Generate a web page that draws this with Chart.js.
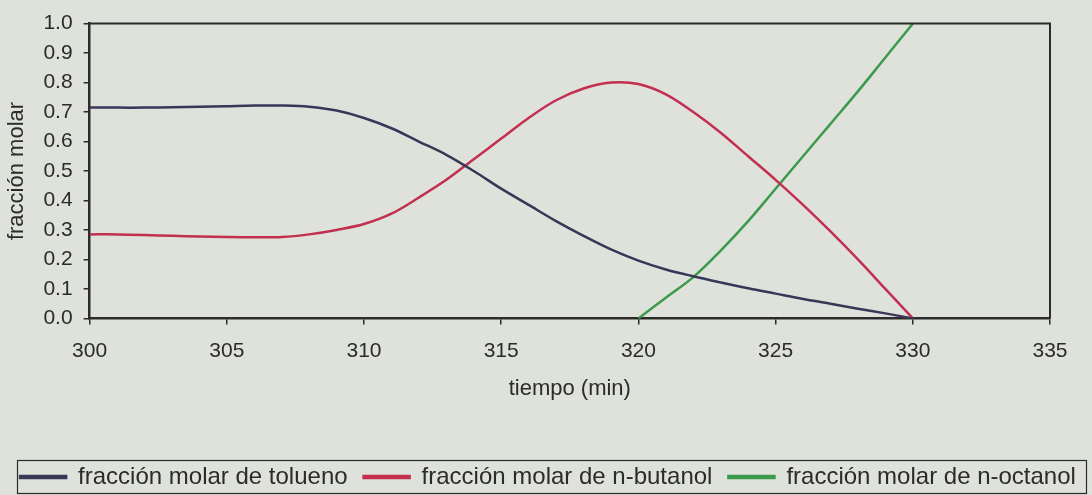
<!DOCTYPE html>
<html>
<head>
<meta charset="utf-8">
<script src="https://cdn.jsdelivr.net/npm/chart.js@4/dist/chart.umd.min.js"></script>
<style>
  html, body { margin: 0; padding: 0; background: #dee2db; }
  #wrap { width: 1092px; height: 495px; position: relative; }
</style>
</head>
<body>
<div id="wrap"><canvas id="c"></canvas></div>
<script>
// fracción molar en el destilado vs tiempo (min)
const tiempo = [300, 301, 302, 303, 304, 305, 306, 307, 308, 309, 310, 311, 312, 313, 314, 315,
  316, 317, 318, 319, 320, 321, 322, 323, 324, 325, 326, 327, 328, 329, 330];
const tolueno = [0.715, 0.715, 0.715, 0.716, 0.718, 0.72, 0.722, 0.722, 0.718, 0.705, 0.68, 0.645,
  0.60, 0.555, 0.50, 0.44, 0.385, 0.33, 0.28, 0.234, 0.196, 0.166, 0.143, 0.122, 0.102, 0.084,
  0.066, 0.05, 0.033, 0.017, 0.0];
const butanol = [0.285, 0.285, 0.283, 0.28, 0.278, 0.276, 0.275, 0.276, 0.285, 0.30, 0.32, 0.355,
  0.41, 0.47, 0.54, 0.61, 0.68, 0.74, 0.78, 0.80, 0.795, 0.76, 0.70, 0.63, 0.55, 0.47,
  0.385, 0.295, 0.20, 0.10, 0.0];
const tiempoOct = [320, 321, 322, 323, 324, 325, 326, 327, 328, 329, 330];
const octanol = [0.0, 0.07, 0.14, 0.23, 0.33, 0.44, 0.55, 0.66, 0.77, 0.885, 1.0];

const xTicks = [300, 305, 310, 315, 320, 325, 330, 335];
const SERIES = [
  { label: 'fracción molar de tolueno', x: tiempo, y: tolueno, color: '#3a3657' },
  { label: 'fracción molar de n-butanol', x: tiempo, y: butanol, color: '#c22f4f' },
  { label: 'fracción molar de n-octanol', x: tiempoOct, y: octanol, color: '#3c9a4c' },
];

const INK = '#2b2b2b';
const FONT = "'Liberation Sans', Arial, sans-serif";

// marco superior/derecho + caja de la leyenda
const framePlugin = {
  id: 'frame',
  afterDraw(chart) {
    const { ctx, chartArea: a, legend } = chart;
    ctx.save();
    ctx.strokeStyle = INK;
    ctx.lineWidth = 2;
    ctx.beginPath();
    ctx.moveTo(a.left, a.top);
    ctx.lineTo(a.right, a.top);
    ctx.lineTo(a.right, a.bottom);
    ctx.stroke();

    ctx.lineWidth = 1.2;
    ctx.strokeRect(17.5, legend.top + 11.5, 1069, 33);
    ctx.restore();
  },
};

new Chart(document.getElementById('c'), {
  type: 'line',
  data: {
    datasets: SERIES.map((s) => ({
      label: s.label,
      data: s.x.map((t, i) => ({ x: t, y: s.y[i] })),
      borderColor: s.color,
      backgroundColor: s.color,
      borderWidth: 2.5,
      pointRadius: 0,
      tension: 0.35,
      fill: false,
    })),
  },
  options: {
    responsive: true,
    maintainAspectRatio: false,
    animation: false,
    layout: { padding: { left: 4, right: 0, top: 12, bottom: -4 } },
    scales: {
      x: {
        type: 'linear', min: 300, max: 335,
        afterBuildTicks: (axis) => { axis.ticks = xTicks.map((v) => ({ value: v })); },
        ticks: { color: INK, font: { size: 21, family: FONT }, padding: 14 },
        grid: { drawOnChartArea: false, color: INK, tickLength: 6, lineWidth: 1.5 },
        border: { color: INK, width: 2.5 },
        title: { display: true, text: 'tiempo (min)', color: INK, font: { size: 22, family: FONT },
          padding: { top: -2, bottom: 47 } },
      },
      y: {
        min: 0, max: 1,
        ticks: { stepSize: 0.1, autoSkip: false, color: INK, font: { size: 21, family: FONT }, padding: 11,
          callback: (v) => v.toFixed(1) },
        grid: { drawOnChartArea: false, color: INK, tickLength: 6, lineWidth: 1.5 },
        border: { color: INK, width: 2.5 },
        title: { display: true, text: 'fracción molar', color: INK, font: { size: 22, family: FONT },
          padding: { top: 0, bottom: 2 } },
      },
      // eje vacío a la derecha: solo reserva el margen del gráfico
      margen: {
        position: 'right', min: 0, max: 1,
        ticks: { display: false },
        grid: { display: false },
        border: { display: false },
        afterFit: (axis) => { axis.width = 42; },
      },
    },
    plugins: {
      legend: {
        position: 'bottom',
        labels: {
          color: INK,
          font: { size: 24, family: FONT },
          boxWidth: 46, boxHeight: 2, padding: 16,
        },
      },
      tooltip: { enabled: false },
    },
  },
  plugins: [framePlugin],
});
</script>
</body>
</html>
